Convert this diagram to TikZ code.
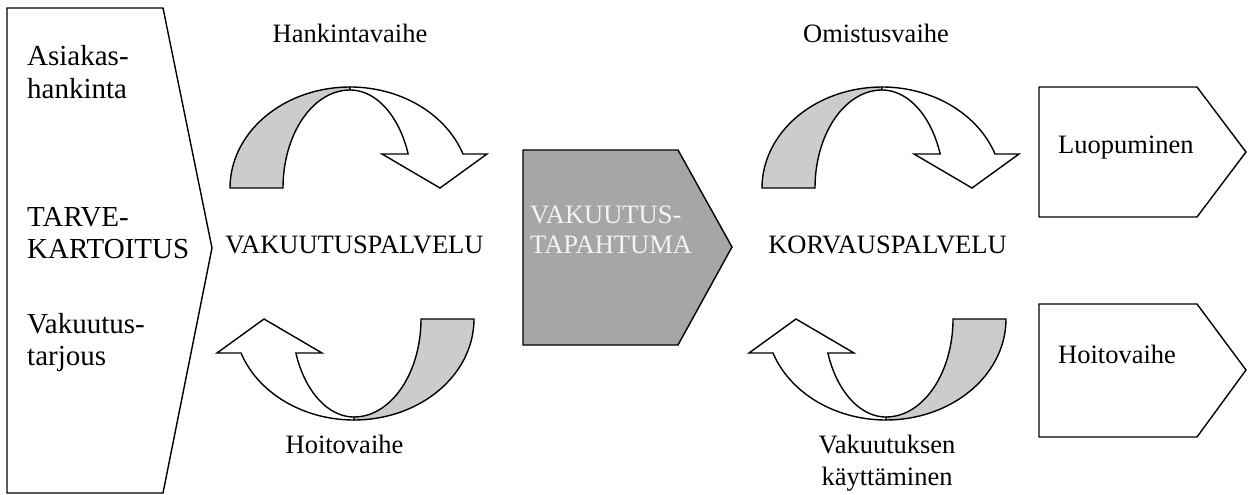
\documentclass[tikz,border=0pt]{standalone}
\usepackage{fontspec}
\setmainfont{Liberation Serif}
\definecolor{bandgrey}{RGB}{204,204,204}
\definecolor{eventgrey}{RGB}{166,166,166}
\definecolor{eventtext}{RGB}{244,244,244}
\begin{document}
\begin{tikzpicture}[x=1pt,y=-1pt,
  outline/.style={draw=black, line width=1.4pt},
  txt/.style={inner sep=0pt, font=\fontsize{26.5}{32}\selectfont},
  sidetxt/.style={inner sep=0pt, anchor=base west, font=\fontsize{29}{34}\selectfont},
  % curled service-cycle arrow: shaded back band on the left, white front band with head on the right
  curlarrow/.pic={
    \filldraw[outline, fill=bandgrey]
      plot[domain=180:90, samples=40] ({120*cos(\x)},{-101*sin(\x)})
      -- plot[domain=90:180, samples=40] ({67*cos(\x)},{-98*sin(\x)}) -- cycle;
    \filldraw[outline, fill=white]
      plot[domain=90:19.67, samples=40] ({120*cos(\x)},{-101*sin(\x)})
      -- (137,-34) -- (90,0) -- (32,-34)
      -- plot[domain=20.3:90, samples=40] ({62*cos(\x)},{-98*sin(\x)}) -- cycle;
  }]
\useasboundingbox (0,0) rectangle (1248,495);

% phase boxes
\draw[outline] (7,8) -- (163,8) -- (212,248) -- (163,493) -- (7,493) -- cycle;
\filldraw[outline, fill=eventgrey] (523,150) -- (678,150) -- (732,247) -- (678,345) -- (523,345) -- cycle;
\draw[outline] (1039,87) -- (1197,87) -- (1246,152) -- (1197,217) -- (1039,217) -- cycle;
\draw[outline] (1039,304) -- (1197,304) -- (1246,370) -- (1197,437) -- (1039,437) -- cycle;

% service cycles
\pic at (350,188) {curlarrow};
\pic[rotate=180] at (354,319) {curlarrow};
\pic at (882,188) {curlarrow};
\pic[rotate=180] at (886,319) {curlarrow};

% left box texts
\node[sidetxt] (asi1) at (27,66) {Asiakas-};
\node[sidetxt] (asi2) at (27,98.5) {hankinta};
\node[sidetxt] (tarve1) at (27,226.7) {TARVE-};
\node[sidetxt] (tarve2) at (27,258.3) {KARTOITUS};
\node[sidetxt] (tarj1) at (27,333) {Vakuutus-};
\node[sidetxt] (tarj2) at (27,365) {tarjous};

% phase headings
\node[txt, anchor=base] (hank) at (350,43) {Hankintavaihe};
\node[txt, anchor=base] (omis) at (876,43) {Omistusvaihe};

% service names
\node[txt, anchor=base] (vpalv) at (354.5,253) {VAKUUTUSPALVELU};
\node[txt, anchor=base] (kpalv) at (887.5,253) {KORVAUSPALVELU};

% insured event
\node[txt, anchor=base west, text=eventtext] (tap1) at (530,223) {VAKUUTUS-};
\node[txt, anchor=base west, text=eventtext] (tap2) at (530,253) {TAPAHTUMA};

% lower cycle labels
\node[txt, anchor=base] (hoito) at (344.5,453) {Hoitovaihe};
\node[txt, anchor=base] (kaytto1) at (887,453) {Vakuutuksen};
\node[txt, anchor=base] (kaytto2) at (887,485) {käyttäminen};

% right boxes
\node[txt, anchor=base west] (luop) at (1058,153) {Luopuminen};
\node[txt, anchor=base west] (hoito2) at (1058,363) {Hoitovaihe};
\end{tikzpicture}
\end{document}
